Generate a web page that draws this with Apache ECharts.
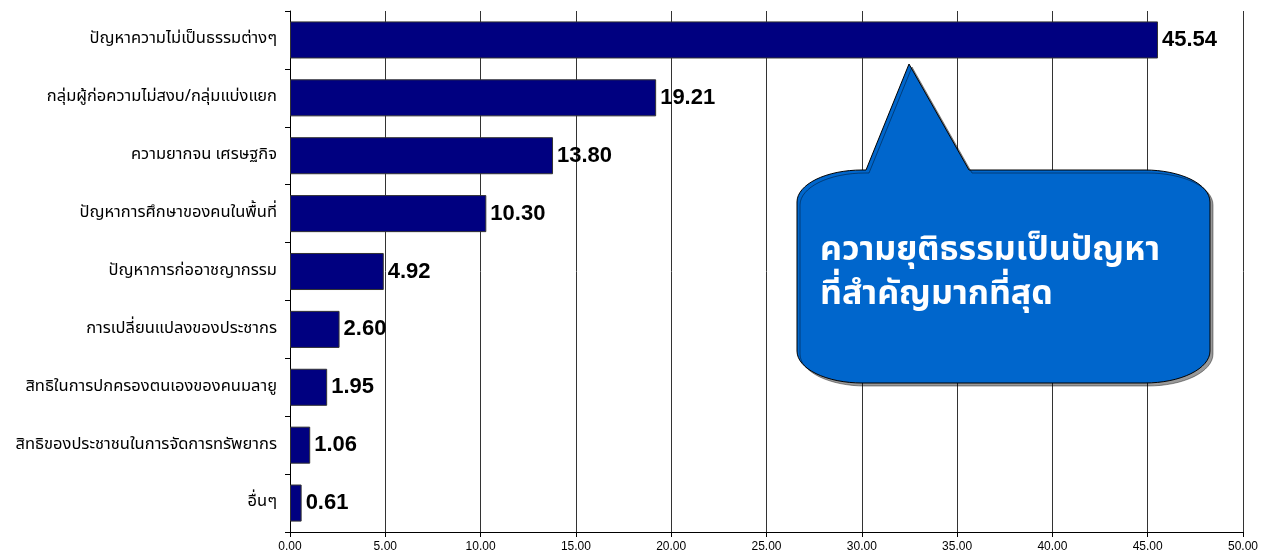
<!DOCTYPE html>
<html>
<head>
<meta charset="utf-8">
<script src="https://cdn.jsdelivr.net/npm/echarts@6/dist/echarts.min.js"></script>
<style>
  html, body { margin: 0; padding: 0; background: #fff; }
  #main { width: 1277px; height: 560px; }
</style>
</head>
<body>
<div id="main"></div>
<script>
const categories = [
  "ปัญหาความไม่เป็นธรรมต่างๆ",
  "กลุ่มผู้ก่อความไม่สงบ/กลุ่มแบ่งแยก",
  "ความยากจน เศรษฐกิจ",
  "ปัญหาการศึกษาของคนในพื้นที่",
  "ปัญหาการก่ออาชญากรรม",
  "การเปลี่ยนแปลงของประชากร",
  "สิทธิในการปกครองตนเองของคนมลายู",
  "สิทธิของประชาชนในการจัดการทรัพยากร",
  "อื่นๆ"
];
const values = [45.54, 19.21, 13.8, 10.3, 4.92, 2.6, 1.95, 1.06, 0.61];
const calloutText = "ความยุติธรรมเป็นปัญหา\nที่สำคัญมากที่สุด";

const thaiFont = "'Noto Sans Thai', Tahoma, 'Liberation Sans', sans-serif";

// callout bubble outline: box with elliptical corners plus a pointer on top
const bx = 797, by = 170, bw = 413, bh = 213, rx = 65, ry = 32;
function corner(cx, cy, a0, a1, pts) {
  for (let i = 0; i <= 16; i++) {
    const a = a0 + (a1 - a0) * i / 16;
    pts.push([cx + rx * Math.cos(a), cy + ry * Math.sin(a)]);
  }
}
const calloutPoints = [];
corner(bx + rx, by + ry, Math.PI, Math.PI * 1.5, calloutPoints);
calloutPoints.push([866, by], [909, 64], [969, by]);
corner(bx + bw - rx, by + ry, Math.PI * 1.5, Math.PI * 2, calloutPoints);
corner(bx + bw - rx, by + bh - ry, 0, Math.PI * 0.5, calloutPoints);
corner(bx + rx, by + bh - ry, Math.PI * 0.5, Math.PI, calloutPoints);

const myChart = echarts.init(document.getElementById("main"));
const option = {
  animation: false,
  backgroundColor: "#fff",
  grid: { left: 290, right: 34, top: 11, bottom: 28, containLabel: false },
  xAxis: {
    type: "value",
    min: 0,
    max: 50,
    interval: 5,
    axisLine: { show: true, lineStyle: { color: "#000", width: 1 } },
    axisTick: { show: true, length: 5, lineStyle: { color: "#000" } },
    axisLabel: {
      color: "#000",
      fontSize: 12,
      fontFamily: "Arial, 'Liberation Sans', sans-serif",
      margin: 9,
      formatter: (v) => v.toFixed(2)
    },
    splitLine: { show: true, lineStyle: { color: "#333", width: 1 } }
  },
  yAxis: {
    type: "category",
    inverse: true,
    data: categories,
    axisLine: { show: true, lineStyle: { color: "#000", width: 1 } },
    axisTick: { show: true, length: 5, lineStyle: { color: "#000" } },
    axisLabel: {
      color: "#000",
      fontSize: 16.5,
      fontFamily: thaiFont,
      margin: 13
    }
  },
  series: [
    {
      type: "bar",
      data: values,
      barCategoryGap: "36%",
      itemStyle: { color: "#000080", borderColor: "#333", borderWidth: 1 },
      label: {
        show: true,
        position: "right",
        distance: 4,
        color: "#000",
        fontSize: 22,
        fontWeight: "bold",
        fontFamily: "Arial, 'Liberation Sans', sans-serif",
        formatter: (p) => p.value.toFixed(2)
      }
    }
  ],
  graphic: [
    {
      type: "polygon",
      z: 100,
      shape: { points: calloutPoints },
      style: {
        fill: "#0066CC",
        stroke: "#000",
        lineWidth: 1,
        shadowColor: "rgba(0,0,0,0.4)",
        shadowOffsetX: 3,
        shadowOffsetY: 3,
        shadowBlur: 0
      }
    },
    {
      type: "text",
      z: 101,
      x: 820,
      y: 231,
      style: {
        text: calloutText,
        fill: "#fff",
        font: "bold 34px " + thaiFont,
        lineHeight: 44
      }
    }
  ]
};
myChart.setOption(option);
window.onresize = function () {
  myChart.resize();
};
</script>
</body>
</html>
